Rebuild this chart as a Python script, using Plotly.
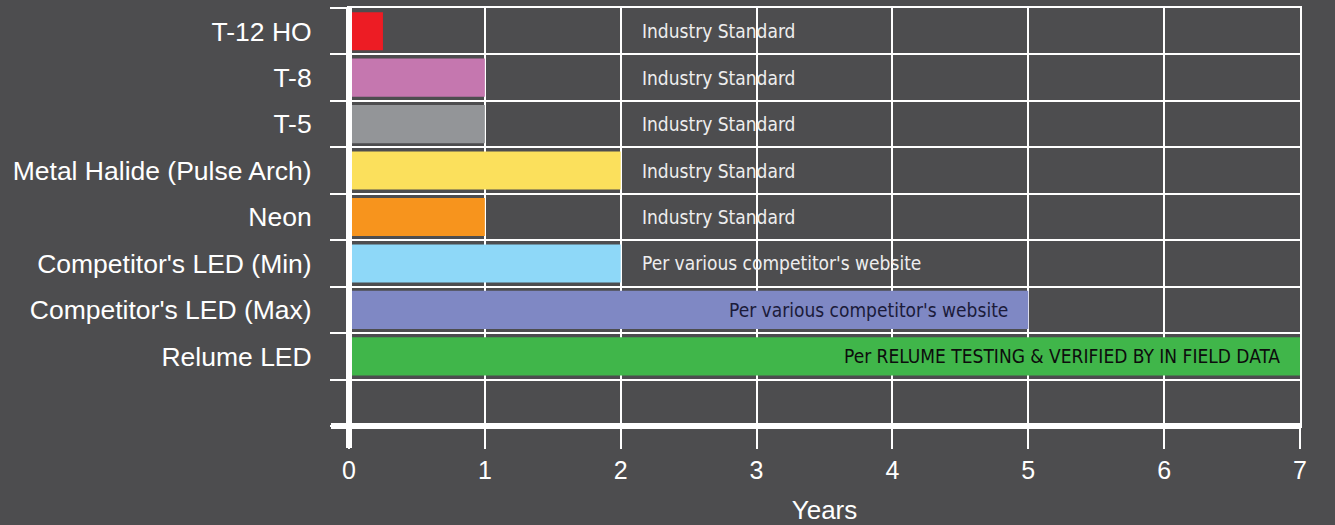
import plotly.graph_objects as go

categories = ["T-12 HO", "T-8", "T-5", "Metal Halide (Pulse Arch)", "Neon",
              "Competitor's LED (Min)", "Competitor's LED (Max)", "Relume LED"]
years = [0.25, 1, 1, 2, 1, 2, 5, 7]
bar_colors = ["#ED1C24", "#C577AF", "#939598", "#FBE05C", "#F7941D",
              "#8ED8F8", "#7F88C4", "#40B64A"]
notes = ["Industry Standard", "Industry Standard", "Industry Standard",
         "Industry Standard", "Industry Standard",
         "Per various competitor's website",
         "Per various competitor's website",
         "Per RELUME TESTING & VERIFIED BY IN FIELD DATA"]
note_inside = [False, False, False, False, False, False, True, True]
note_colors = ["#EEEEEE", "#EEEEEE", "#EEEEEE", "#EEEEEE", "#EEEEEE",
               "#EEEEEE", "#1B1B3A", "#0D0D0D"]
note_column = 2  # years, where the outside notes column begins
x_ticks = [0, 1, 2, 3, 4, 5, 6, 7]
x_title = "Years"
n_rows = len(categories) + 1  # one empty row at the bottom

BG = "#4D4D4F"
positions = list(range(len(categories)))

fig = go.Figure()
fig.add_trace(go.Bar(
    y=positions, x=years, orientation="h",
    marker=dict(color=bar_colors, line=dict(width=0)),
    width=0.82, hoverinfo="skip", showlegend=False,
))

narrow = "Liberation Sans Narrow, Arial Narrow, DejaVu Sans Condensed, sans-serif"
annotations = []
for i, (txt, inside, col) in enumerate(zip(notes, note_inside, note_colors)):
    if inside:
        annotations.append(dict(x=years[i], y=positions[i], xref="x", yref="y",
                                text=txt, showarrow=False, xanchor="right",
                                xshift=-18, font=dict(family=narrow, size=19, color=col)))
    else:
        annotations.append(dict(x=note_column, y=positions[i], xref="x", yref="y",
                                text=txt, showarrow=False, xanchor="left",
                                xshift=19, font=dict(family=narrow, size=19, color=col)))

W, H = 1335, 525
ml, mr, mt, mb = 349, 35, 8, 99
ph = H - mt - mb
pw = W - ml - mr

shapes = [
    # thick y axis line at x=0, extending below plot like a tick
    dict(type="line", xref="paper", yref="paper", x0=0, x1=0, y0=-22 / ph, y1=1,
         line=dict(color="white", width=6), layer="above"),
    # thick baseline, extending left like a tick
    dict(type="line", xref="paper", yref="paper", x0=-18 / pw, x1=1,
         y0=0, y1=0, line=dict(color="white", width=6), layer="above"),
]

fig.update_layout(
    width=W, height=H,
    margin=dict(l=ml, r=mr, t=mt, b=mb, pad=0, autoexpand=False),
    paper_bgcolor=BG, plot_bgcolor=BG,
    font=dict(family="Liberation Sans, Arial, sans-serif", color="white"),
    annotations=annotations, shapes=shapes,
    bargap=0.18,
)
fig.update_xaxes(
    range=[0, 7], tickvals=x_ticks, ticktext=[str(t) for t in x_ticks],
    showgrid=True, gridcolor="white", gridwidth=2,
    ticks="outside", ticklen=21, tickwidth=2, tickcolor="white",
    tickfont=dict(size=25, color="white"), automargin=False,
    zeroline=False, showline=True, mirror=True, linecolor="white", linewidth=2,
    title=dict(text=x_title, font=dict(size=26, color="white"), standoff=19),
)
fig.update_yaxes(
    range=[n_rows - 0.5, -0.5], tickvals=positions, ticktext=categories,
    showgrid=False, zeroline=False, automargin=False,
    ticks="outside", ticklen=30, tickcolor="rgba(0,0,0,0)",
    tickfont=dict(size=26.5, color="white"),
    showline=True, mirror=True, linecolor="white", linewidth=2,
    minor=dict(tickmode="linear", tick0=0.5, dtick=1, ticks="outside", ticklen=17,
               tickwidth=2, tickcolor="white", showgrid=True,
               gridcolor="white", gridwidth=2),
)

fig.write_html("out.html")
